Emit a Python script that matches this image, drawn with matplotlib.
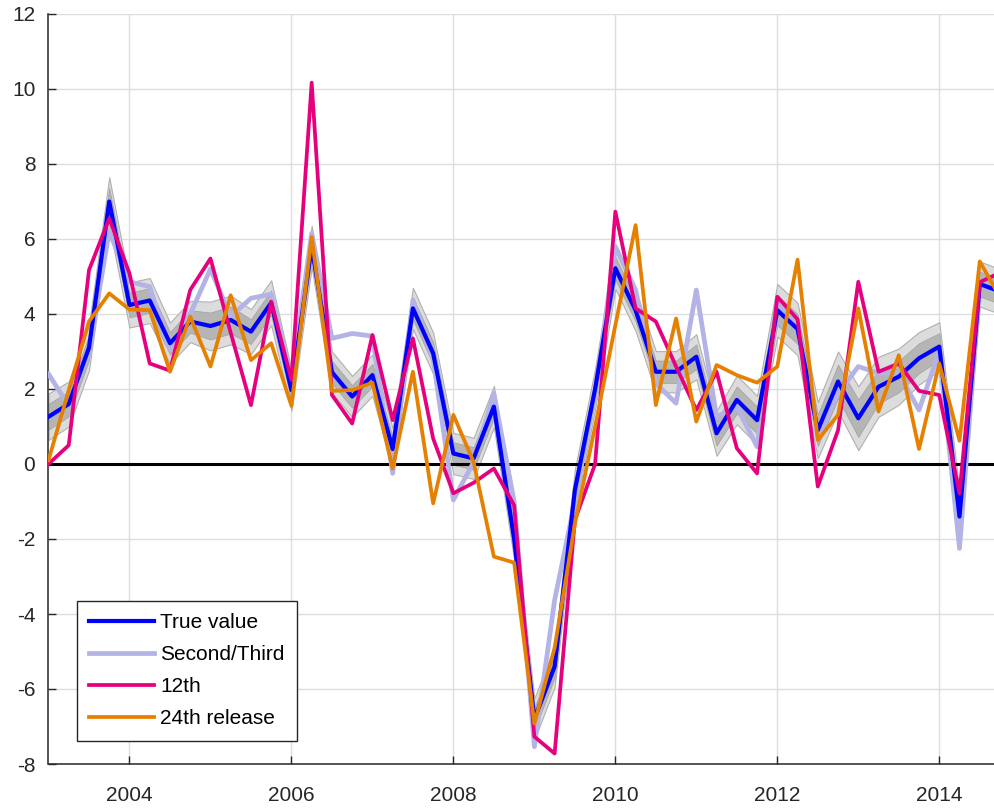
import numpy as np
import matplotlib
matplotlib.use("Agg")
import matplotlib.pyplot as plt

plt.rcParams['font.family'] = ['Liberation Sans', 'DejaVu Sans']
plt.rcParams['axes.unicode_minus'] = False

# quarterly dates 2003Q1 .. 2014Q4
dates = [2003 + q / 4 for q in range(48)]

true_value = [1.26, 1.6, 3.1, 7.0, 4.24, 4.36, 3.22, 3.8, 3.68, 3.84, 3.53, 4.3,
              1.97, 5.8, 2.45, 1.8, 2.37, 0.4, 4.15, 2.95, 0.28, 0.15, 1.53, -2.0,
              -6.8, -5.4, -0.7, 2.0, 5.22, 4.1, 2.46, 2.46, 2.86, 0.82, 1.71, 1.17,
              4.1, 3.6, 0.9, 2.2, 1.22, 2.06, 2.33, 2.82, 3.13, -1.4, 4.8, 4.6]

second_third = [2.4, 1.55, 3.0, 6.2, 4.86, 4.73, 3.04, 4.0, 5.2, 3.93, 4.42, 4.53,
                2.3, 6.15, 3.35, 3.48, 3.41, -0.25, 4.37, 2.8, -0.96, 0.05, 1.88, -1.0,
                -7.54, -3.63, -1.0, 1.9, 5.8, 4.64, 2.15, 1.62, 4.64, 1.26, 1.53, 0.46,
                4.37, 3.6, 0.73, 1.88, 2.6, 2.42, 2.42, 1.44, 3.0, -2.25, 4.75, 4.55]

release_12 = [0.0, 0.5, 5.17, 6.55, 5.08, 2.68, 2.49, 4.64, 5.48, 3.5, 1.57, 4.33,
              2.24, 10.17, 1.84, 1.08, 3.44, 1.17, 3.35, 0.68, -0.78, -0.5, -0.12, -1.1,
              -7.27, -7.72, -1.5, 0.0, 6.73, 4.15, 3.8, 2.6, 1.44, 2.46, 0.42, -0.25,
              4.46, 3.86, -0.6, 0.9, 4.86, 2.46, 2.68, 1.95, 1.84, -0.78, 4.85, 5.1]

release_24 = [0.1, 1.97, 3.8, 4.55, 4.12, 4.1, 2.46, 3.93, 2.6, 4.5, 2.77, 3.22,
              1.55, 6.05, 1.95, 1.97, 2.17, -0.12, 2.46, -1.05, 1.31, 0.05, -2.47, -2.63,
              -6.92, -4.9, -1.6, 1.0, 3.7, 6.37, 1.57, 3.88, 1.13, 2.64, 2.37, 2.17,
              2.6, 5.45, 0.64, 1.31, 4.15, 1.4, 2.9, 0.4, 2.68, 0.62, 5.4, 4.45]

# half-widths of the uncertainty bands around the true value
band_outer = [0.62, 0.6, 0.6, 0.65, 0.6, 0.6, 0.55, 0.55, 0.65, 0.65, 0.6, 0.6,
              0.55, 0.55, 0.55, 0.55, 0.55, 0.55, 0.55, 0.55, 0.55, 0.55, 0.55, 0.55,
              0.55, 0.55, 0.55, 0.55, 0.55, 0.55, 0.55, 0.55, 0.6, 0.6, 0.65, 0.65,
              0.7, 0.7, 0.75, 0.8, 0.85, 0.8, 0.75, 0.7, 0.65, 0.65, 0.6, 0.6]
band_inner = [0.35, 0.33, 0.33, 0.36, 0.33, 0.33, 0.3, 0.3, 0.36, 0.36, 0.33, 0.33,
              0.3, 0.3, 0.3, 0.3, 0.3, 0.3, 0.3, 0.3, 0.3, 0.3, 0.3, 0.3,
              0.3, 0.3, 0.3, 0.3, 0.3, 0.3, 0.3, 0.3, 0.33, 0.33, 0.36, 0.36,
              0.4, 0.4, 0.42, 0.45, 0.5, 0.45, 0.42, 0.4, 0.36, 0.36, 0.33, 0.33]

labels = ['True value', 'Second/Third', '12th', '24th release']
xticks = [2004, 2006, 2008, 2010, 2012, 2014]
yticks = [-8, -6, -4, -2, 0, 2, 4, 6, 8, 10, 12]

x = np.array(dates)
tv = np.array(true_value)
bo = np.array(band_outer)
bi = np.array(band_inner)

fig = plt.figure(figsize=(9.95, 8.09), dpi=100)
ax = fig.add_axes([48.5 / 995, 45 / 809, (1000 - 48.5) / 995, 750 / 809])

ax.fill_between(x, tv - bo, tv + bo, facecolor='#dcdcdc', edgecolor='#b0b0b0',
                linewidth=0.8, zorder=2)
ax.fill_between(x, tv - bi, tv + bi, facecolor='#b5b5b5', edgecolor='#a0a0a0',
                linewidth=0.5, zorder=2.1)

ax.axhline(0, color='black', linewidth=2.2, zorder=2.5)

ax.plot(x, second_third, color='#b3b3e6', linewidth=3.4, label=labels[1], zorder=3)
ax.plot(x, tv, color='#0000ff', linewidth=3.0, label=labels[0], zorder=4)
ax.plot(x, release_12, color='#e6007e', linewidth=2.7, label=labels[2], zorder=5)
ax.plot(x, release_24, color='#e68000', linewidth=2.7, label=labels[3], zorder=6)

ax.set_xlim(2003, 2014.75)
ax.set_ylim(-8, 12)
ax.set_xticks(xticks)
ax.set_yticks(yticks)
ax.set_xticklabels([str(t) for t in xticks])
ax.set_yticklabels([str(t) for t in yticks])

ax.grid(True, color='#dddddd', linewidth=1.0, zorder=0)
ax.set_axisbelow(True)

for side in ['top', 'right']:
    ax.spines[side].set_visible(False)
for side in ['left', 'bottom']:
    ax.spines[side].set_color('#262626')
    ax.spines[side].set_linewidth(1.1)

ax.tick_params(direction='in', length=6, width=1.0, colors='#262626',
               labelsize=15, top=False, right=False)
ax.tick_params(axis='y', pad=9.5)
ax.tick_params(axis='x', pad=16)

handles, labs = ax.get_legend_handles_labels()
order = [labs.index(l) for l in labels]
leg = ax.legend([handles[i] for i in order], [labs[i] for i in order],
                loc='upper left', bbox_to_anchor=((77 - 48.5) / 951.5, (764 - 601) / 750),
                borderaxespad=0, fontsize=15, frameon=True, fancybox=False,
                handlelength=3.1, handletextpad=0.3, labelspacing=0.62,
                borderpad=0.6)
leg.get_frame().set_edgecolor('#262626')
leg.get_frame().set_linewidth(1.0)
leg.get_frame().set_alpha(1)

fig.savefig('out.png', dpi=100)
